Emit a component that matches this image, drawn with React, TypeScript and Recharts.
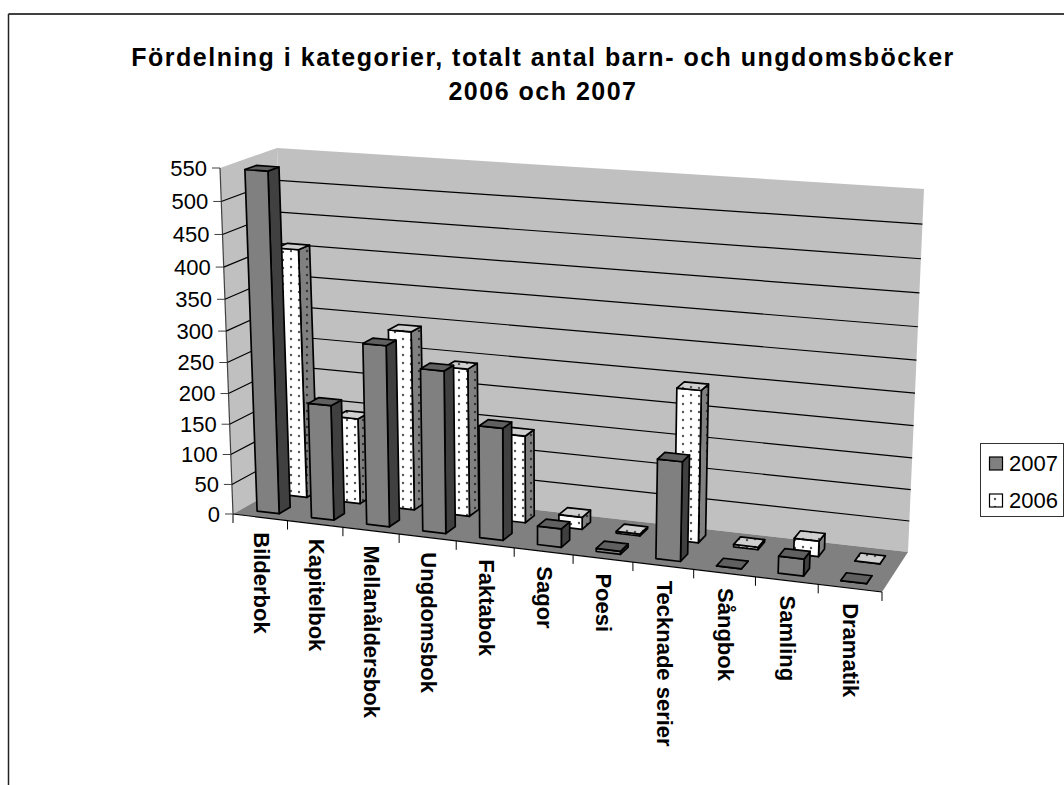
import { BarChart, Bar, XAxis, YAxis, CartesianGrid } from 'recharts';

const categories = [
  'Bilderbok', 'Kapitelbok', 'Mellanåldersbok', 'Ungdomsbok', 'Faktabok', 'Sagor',
  'Poesi', 'Tecknade serier', 'Sångbok', 'Samling', 'Dramatik',
];
const values2007 = [545, 189, 293, 262, 181, 30, 5, 158, 0, 27, 0];
const values2006 = [408, 143, 293, 242, 143, 20, 3, 243, 4, 25, 0];
const yTicks = [0, 50, 100, 150, 200, 250, 300, 350, 400, 450, 500, 550];

const data = categories.map((name, i) => ({ name, v2007: values2007[i], v2006: values2006[i] }));

const FONT = '"Liberation Sans", Arial, sans-serif';

// flat plot area that recharts lays out; project() bends it into the 3D box
const PLOT = { left: 233, right: 881, top: 168, bottom: 514 };
type Pt = [number, number];
const FBL: Pt = [233, 514], FBR: Pt = [882, 592], FTL: Pt = [220, 168], FTR: Pt = [898, 216];
const BBL: Pt = [290, 482], BBR: Pt = [908, 552], BTL: Pt = [277, 148], BTR: Pt = [924, 189];

const lerp = (a: Pt, b: Pt, t: number): Pt => [a[0] + (b[0] - a[0]) * t, a[1] + (b[1] - a[1]) * t];
const warpU = (u: number) => u / (u + (1 - u) * 1.09);
const warpH = (h: number) => h / (h + (1 - h) * 1.07);

function project(u: number, d: number, h: number): Pt {
  const su = warpU(u), sh = warpH(h);
  const front = lerp(lerp(FBL, FBR, su), lerp(FTL, FTR, su), sh);
  const back = lerp(lerp(BBL, BBR, su), lerp(BTL, BTR, su), sh);
  return lerp(front, back, d);
}
const toU = (x: number) => (x - PLOT.left) / (PLOT.right - PLOT.left);
const toH = (y: number) => (PLOT.bottom - y) / (PLOT.bottom - PLOT.top);
const poly = (pts: Pt[]) => pts.map((p) => p.join(',')).join(' ');

function Bar3D(props: any, d0: number, d1: number, fills: string[]) {
  const { x, y, width, height } = props;
  const u0 = toU(x), u1 = toU(x + width);
  const h1 = toH(y), h0 = toH(y + height);
  const edge = { stroke: '#000', strokeWidth: 1.7, strokeLinejoin: 'round' as const };
  return (
    <g>
      <polygon points={poly([project(u1, d0, h0), project(u1, d1, h0), project(u1, d1, h1), project(u1, d0, h1)])} fill={fills[1]} {...edge} />
      <polygon points={poly([project(u0, d0, h0), project(u1, d0, h0), project(u1, d0, h1), project(u0, d0, h1)])} fill={fills[0]} {...edge} />
      <polygon points={poly([project(u0, d0, h1), project(u1, d0, h1), project(u1, d1, h1), project(u0, d1, h1)])} fill={fills[2]} {...edge} />
    </g>
  );
}
const shape2007 = (p: any) => Bar3D(p, 0.15, 0.35, ['#808080', '#404040', '#606060']);
const shape2006 = (p: any) => Bar3D(p, 0.65, 0.85, ['url(#dotsWhite)', 'url(#dotsGray)', 'url(#dotsLight)']);

function YTick({ y, payload }: any) {
  const [px, py] = project(0, 0, toH(y));
  return (
    <g>
      <line x1={px - 8} y1={py} x2={px} y2={py} stroke="#404040" strokeWidth={1} />
      <text x={px - 13} y={py} textAnchor="end" dominantBaseline="central" fontSize={22} fontFamily={FONT} fill="#000">
        {payload.value}
      </text>
    </g>
  );
}

function XTick({ x, payload, index }: any) {
  const half = 1 / (2 * categories.length);
  const u = toU(x);
  const [cx, cy] = project(u, 0, 0);
  const [lx, ly] = project(u - half, 0, 0);
  const [rx, ry] = project(u + half, 0, 0);
  const tx = cx - 6.5, ty = cy + 15;
  return (
    <g>
      <line x1={lx} y1={ly} x2={lx} y2={ly + 9} stroke="#000" strokeWidth={1} />
      {index === categories.length - 1 && <line x1={rx} y1={ry} x2={rx} y2={ry + 9} stroke="#000" strokeWidth={1} />}
      <text
        x={tx}
        y={ty}
        transform={`rotate(90 ${tx} ${ty})`}
        fontSize={22}
        fontWeight="bold"
        fontFamily={FONT}
        fill="#000"
      >
        {payload.value}
      </text>
    </g>
  );
}

function gridLine(p: any) {
  const h = toH(p.y1);
  if (h < 0.001 || h > 0.999) return <g key={p.key} />;
  return (
    <polyline
      key={p.key}
      points={poly([project(0, 0, h), project(0, 1, h), project(1, 1, h)])}
      fill="none"
      stroke="#000"
      strokeWidth={1.2}
    />
  );
}

function LegendRow({ y, fill, label }: { y: number; fill: string; label: string }) {
  return (
    <g>
      <rect x={989.5} y={y - 6} width={13} height={13} fill={fill} stroke="#000" strokeWidth={1.2} />
      <text x={1009} y={y} dominantBaseline="central" fontSize={22} fontFamily={FONT} fill="#000">{label}</text>
    </g>
  );
}

export default function App() {
  return (
    <div style={{ position: 'absolute', left: 0, top: 0, width: 1064, height: 785, overflow: 'hidden', background: '#fff' }}>
      {/* walls and floor sit behind the chart so the grid stays visible */}
      <svg width={1064} height={785} style={{ position: 'absolute', left: 0, top: 0 }}>
        <polygon points={poly([FBL, BBL, BTL, FTL])} fill="#c0c0c0" />
        <polygon points={poly([BBL, BBR, BTR, BTL])} fill="#c0c0c0" />
        <polygon points={poly([FBL, FBR, BBR, BBL])} fill="#808080" />
        <line x1={FBL[0]} y1={FBL[1]} x2={FBR[0]} y2={FBR[1]} stroke="#000" strokeWidth={1.2} />
        <line x1={FBL[0]} y1={FBL[1]} x2={FTL[0]} y2={FTL[1]} stroke="#404040" strokeWidth={1.2} />
      </svg>
      <div style={{ position: 'absolute', left: 0, top: 0 }}>
        <BarChart
          width={1064}
          height={785}
          data={data}
          barSize={24}
          barGap={-24}
          margin={{ top: PLOT.top, right: 1064 - PLOT.right, bottom: 785 - PLOT.bottom - 30, left: PLOT.left - 60 }}
        >
          <defs>
            <pattern id="dotsWhite" width="16" height="16" patternUnits="userSpaceOnUse">
              <rect width="16" height="16" fill="#fff" />
              <circle cx="3" cy="3" r="1.2" fill="#555" />
              <circle cx="11" cy="4" r="1.2" fill="#555" />
              <circle cx="3" cy="11" r="1.2" fill="#555" />
              <circle cx="11" cy="12" r="1.2" fill="#555" />
            </pattern>
            <pattern id="dotsGray" width="16" height="16" patternUnits="userSpaceOnUse">
              <rect width="16" height="16" fill="#808080" />
              <circle cx="3" cy="3" r="1.2" fill="#333" />
              <circle cx="11" cy="4" r="1.2" fill="#333" />
              <circle cx="3" cy="11" r="1.2" fill="#333" />
              <circle cx="11" cy="12" r="1.2" fill="#333" />
            </pattern>
            <pattern id="dotsLight" width="16" height="16" patternUnits="userSpaceOnUse">
              <rect width="16" height="16" fill="#d0d0d0" />
              <circle cx="3" cy="3" r="1.2" fill="#555" />
              <circle cx="11" cy="4" r="1.2" fill="#555" />
              <circle cx="3" cy="11" r="1.2" fill="#555" />
              <circle cx="11" cy="12" r="1.2" fill="#555" />
            </pattern>
          </defs>

          {/* outer frame: the page cuts off the right and bottom sides */}
          <line x1={8.5} y1={14} x2={1064} y2={14} stroke="#000" strokeWidth={1.5} />
          <line x1={8.5} y1={14} x2={8.5} y2={785} stroke="#222" strokeWidth={1.5} />

          <text x={543} y={57} textAnchor="middle" dominantBaseline="central" fontSize={25} fontWeight="bold" letterSpacing={1.5} fontFamily={FONT}>
            Fördelning i kategorier, totalt antal barn- och ungdomsböcker
          </text>
          <text x={543} y={91} textAnchor="middle" dominantBaseline="central" fontSize={25} fontWeight="bold" letterSpacing={1.5} fontFamily={FONT}>
            2006 och 2007
          </text>

          <CartesianGrid vertical={false} horizontal={gridLine} />
          <XAxis dataKey="name" height={30} interval={0} axisLine={false} tickLine={false} tick={<XTick />} />
          <YAxis domain={[0, 550]} ticks={yTicks} width={60} axisLine={false} tickLine={false} tick={<YTick />} />

          {/* back row first so the front row covers it */}
          <Bar dataKey="v2006" name="2006" shape={shape2006} isAnimationActive={false} />
          <Bar dataKey="v2007" name="2007" shape={shape2007} isAnimationActive={false} />

          <rect x={980.5} y={443.5} width={83} height={73} fill="#fff" stroke="#333" strokeWidth={1} />
          <LegendRow y={463} fill="#808080" label="2007" />
          <LegendRow y={500} fill="url(#dotsWhite)" label="2006" />
        </BarChart>
      </div>
    </div>
  );
}
